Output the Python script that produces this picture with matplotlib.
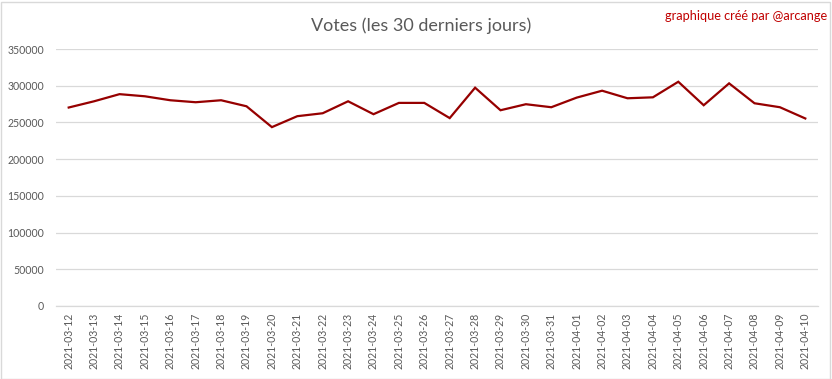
import matplotlib
matplotlib.use("Agg")
import matplotlib.pyplot as plt
from matplotlib.patches import Rectangle

dates = ["2021-03-12", "2021-03-13", "2021-03-14", "2021-03-15", "2021-03-16",
         "2021-03-17", "2021-03-18", "2021-03-19", "2021-03-20", "2021-03-21",
         "2021-03-22", "2021-03-23", "2021-03-24", "2021-03-25", "2021-03-26",
         "2021-03-27", "2021-03-28", "2021-03-29", "2021-03-30", "2021-03-31",
         "2021-04-01", "2021-04-02", "2021-04-03", "2021-04-04", "2021-04-05",
         "2021-04-06", "2021-04-07", "2021-04-08", "2021-04-09", "2021-04-10"]
votes = [270300, 278800, 288500, 285600, 280200, 277500, 280200, 272000, 243600, 258500,
         262500, 278800, 261200, 276600, 276600, 255900, 297300, 266600, 274800, 270700,
         283800, 293200, 282900, 284200, 305400, 273400, 303200, 276100, 270700, 255400]
yticks = [0, 50000, 100000, 150000, 200000, 250000, 300000, 350000]

plt.rcParams['font.family'] = ['Lato', 'DejaVu Sans']

fig = plt.figure(figsize=(8.32, 3.79), dpi=100)
ax = fig.add_axes([56/832, 1 - 306/379, (818-56)/832, (306-49)/379])

x = list(range(len(dates)))
ax.plot(x, votes, color='#960000', linewidth=1.6, solid_joinstyle='miter')
ax.set_xlim(-0.5, len(dates) - 0.5)
ax.set_ylim(0, 350000)
ax.set_yticks(yticks)
ax.set_yticklabels([str(v) for v in yticks], fontsize=7.6, color='#595959')
ax.set_xticks(x)
ax.set_xticklabels(dates, rotation=90, fontsize=7.6, color='#595959')
ax.tick_params(axis='y', length=0, pad=8.5)
ax.tick_params(axis='x', length=0, pad=5)
ax.grid(axis='y', color='#d9d9d9', linewidth=0.9)
ax.set_axisbelow(True)
for s in ['top', 'right', 'left']:
    ax.spines[s].set_visible(False)
ax.spines['bottom'].set_color('#d9d9d9')
ax.spines['bottom'].set_linewidth(0.9)

fig.text(421/832, 1 - 31/379, "Votes (les 30 derniers jours)", ha='center', va='baseline',
         fontsize=13, color='#595959')
fig.text(827/832, 1 - 20/379, "graphique créé par @arcange", ha='right', va='baseline',
         fontsize=9.2, color='#c00000')

fig.patches.append(Rectangle((0.5/832, 0.5/379), 1 - 3/832, 1 - 2/379,
                             transform=fig.transFigure, fill=False,
                             edgecolor='#d9d9d9', linewidth=1))

fig.savefig("out.png", dpi=100, facecolor='white')
